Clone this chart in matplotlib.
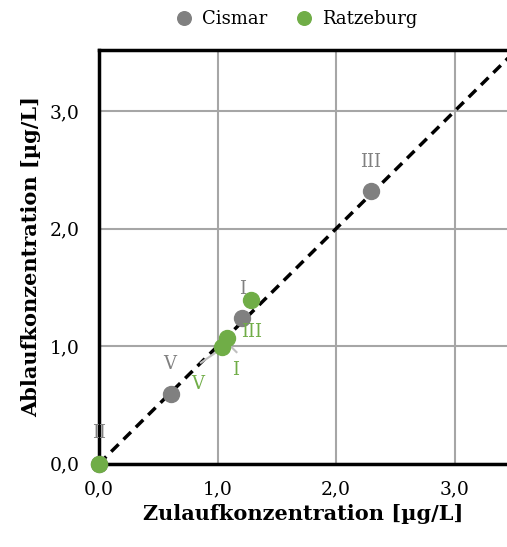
"""Zulauf- vs. Ablaufkonzentration, Cismar und Ratzeburg."""

import matplotlib

matplotlib.use("Agg")

import matplotlib.pyplot as plt
from matplotlib.ticker import FuncFormatter

plt.rcParams["font.family"] = ["DejaVu Serif"]

CISMAR_LABELS = ["II", "V", "I", "III"]
CISMAR_ZULAUF = [0.0, 0.61, 1.21, 2.29]
CISMAR_ABLAUF = [0.0, 0.59, 1.24, 2.32]

RATZEBURG_LABELS = ["II", "V", "I", "III"]
RATZEBURG_ZULAUF = [0.0, 1.04, 1.08, 1.28]
RATZEBURG_ABLAUF = [0.0, 0.99, 1.07, 1.39]

# label positions (data coords)
CISMAR_LABEL_POS = [(0.0, 0.26), (0.60, 0.85), (1.21, 1.49), (2.29, 2.57)]
RATZEBURG_LABEL_POS = [None, (0.83, 0.68), (1.15, 0.80), (1.29, 1.12)]
LEADER_LINES = [((0.86, 0.86), (1.02, 0.97)), ((1.08, 1.03), (1.16, 0.95))]

TICKS = [0, 1, 2, 3]
GRAY = "#808080"
GREEN = "#70ad47"


def main():
    fig = plt.figure(figsize=(5.07, 5.47), dpi=100)
    ax = fig.add_axes((0.195, 0.152, 0.805, 0.757))
    ax.set_xlim(0, 3.44)
    ax.set_ylim(0, 3.52)
    ax.set_xticks(TICKS)
    ax.set_yticks(TICKS)
    fmt = FuncFormatter(lambda v, _: f"{v:.1f}".replace(".", ","))
    ax.xaxis.set_major_formatter(fmt)
    ax.yaxis.set_major_formatter(fmt)
    ax.tick_params(length=0, labelsize=13.5)
    ax.tick_params(axis="y", pad=14)
    ax.tick_params(axis="x", pad=12)
    ax.grid(True, color="#a6a6a6", linewidth=1.5)
    ax.set_axisbelow(True)
    for side in ("left", "bottom", "top"):
        ax.spines[side].set_linewidth(2.5)
        ax.spines[side].set_color("black")
    ax.spines["right"].set_visible(False)

    ax.plot([0, 3.6], [0, 3.6], color="black", linestyle=(0, (3, 2)), linewidth=2.5, zorder=2)

    for start, end in LEADER_LINES:
        ax.plot([start[0], end[0]], [start[1], end[1]], color="#bfbfbf", linewidth=1.5, zorder=2.5)

    ax.plot(CISMAR_ZULAUF, CISMAR_ABLAUF, "o", color=GRAY, markersize=11.5, label="Cismar", zorder=3, clip_on=False)
    ax.plot(RATZEBURG_ZULAUF, RATZEBURG_ABLAUF, "o", color=GREEN, markersize=11.5, label="Ratzeburg", zorder=4, clip_on=False)

    for label, pos in zip(CISMAR_LABELS, CISMAR_LABEL_POS):
        ax.text(pos[0], pos[1], label, color=GRAY, fontsize=13, ha="center", va="center")
    for label, pos in zip(RATZEBURG_LABELS, RATZEBURG_LABEL_POS):
        if pos is not None:
            ax.text(pos[0], pos[1], label, color=GREEN, fontsize=13, ha="center", va="center")

    ax.set_xlabel("Zulaufkonzentration [µg/L]", fontsize=15, fontweight="bold", labelpad=4)
    ax.set_ylabel("Ablaufkonzentration [µg/L]", fontsize=15, fontweight="bold", labelpad=6)

    fig.legend(loc="center", bbox_to_anchor=(0.575, 0.965), ncol=2, frameon=False, fontsize=13,
               handletextpad=0.0, columnspacing=1.0, markerscale=0.85)
    fig.savefig("out.png", dpi=100)


if __name__ == "__main__":
    main()
